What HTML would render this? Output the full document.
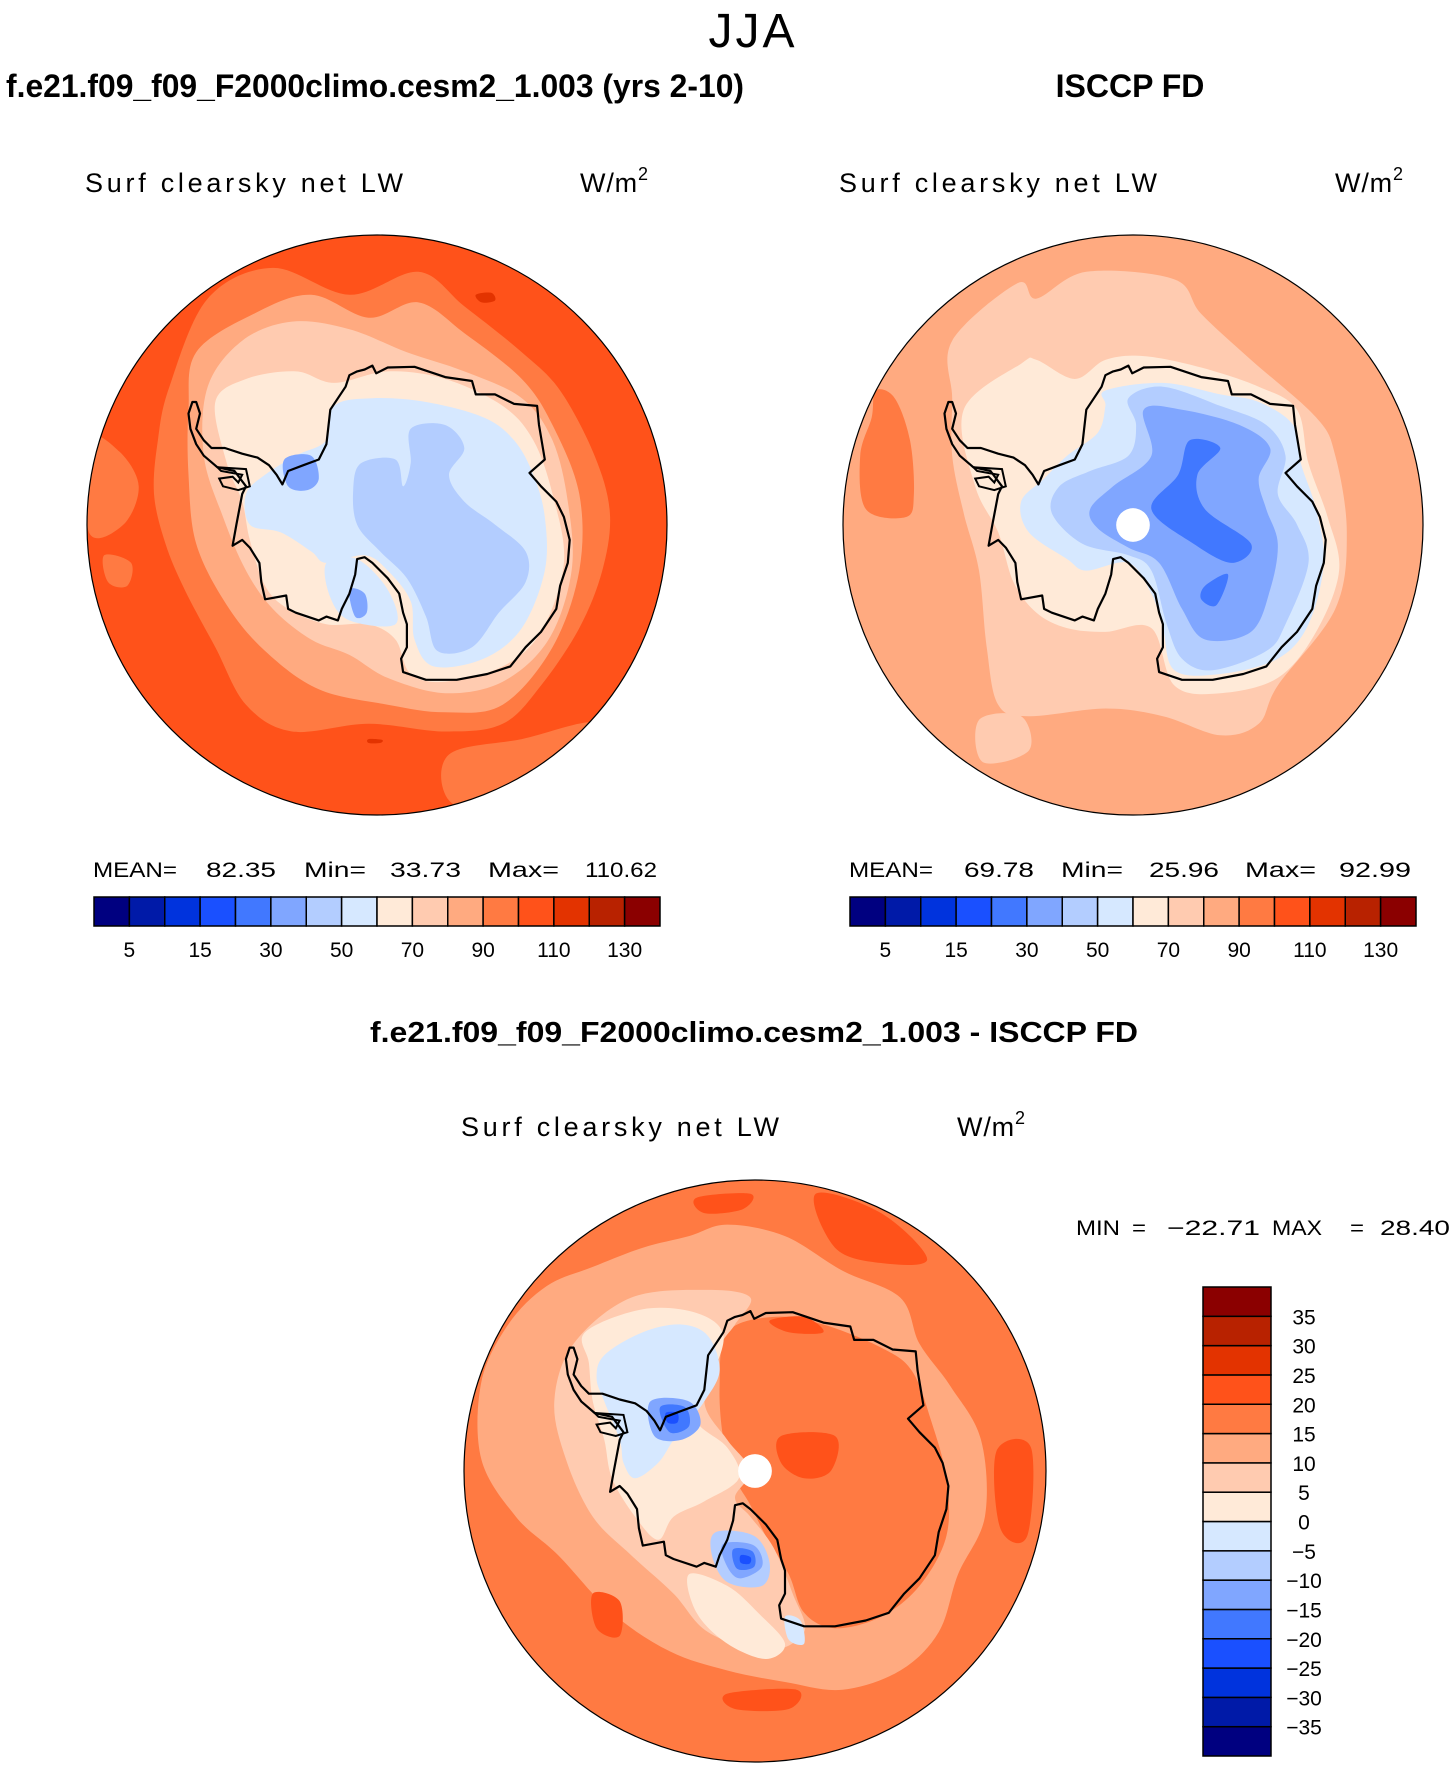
<!DOCTYPE html>
<html><head><meta charset="utf-8">
<style>
html,body{margin:0;padding:0;background:#fff;}
svg{display:block;}
text{font-family:"Liberation Sans",sans-serif;fill:#000;}
.bold{font-weight:bold;}
</style></head>
<body>
<svg id="fig" xmlns="http://www.w3.org/2000/svg" width="1456" height="1766" viewBox="0 0 1456 1766">
  <rect x="0" y="0" width="1456" height="1766" fill="#fff"/>
  <text x="753" y="47" font-size="48" text-anchor="middle" style="letter-spacing:3px">JJA</text>
  <text x="6" y="97" font-size="32" class="bold" textLength="738" lengthAdjust="spacingAndGlyphs">f.e21.f09_f09_F2000climo.cesm2_1.003 (yrs 2-10)</text>
  <text x="1130" y="97" font-size="32" class="bold" text-anchor="middle">ISCCP FD</text>
  <text x="85" y="192" font-size="27" textLength="318" lengthAdjust="spacing">Surf clearsky net LW</text>
  <text x="580" y="192" font-size="27" textLength="68" lengthAdjust="spacing">W/m<tspan font-size="18" dy="-12">2</tspan></text>
  <text x="839" y="192" font-size="27" textLength="318" lengthAdjust="spacing">Surf clearsky net LW</text>
  <text x="1335" y="192" font-size="27" textLength="68" lengthAdjust="spacing">W/m<tspan font-size="18" dy="-12">2</tspan></text>
  <g font-size="21">
    <text x="93" y="877" textLength="84" lengthAdjust="spacingAndGlyphs">MEAN=</text>
    <text x="206" y="877" textLength="70" lengthAdjust="spacingAndGlyphs">82.35</text>
    <text x="304" y="877" textLength="62" lengthAdjust="spacingAndGlyphs">Min=</text>
    <text x="390" y="877" textLength="71" lengthAdjust="spacingAndGlyphs">33.73</text>
    <text x="488" y="877" textLength="71" lengthAdjust="spacingAndGlyphs">Max=</text>
    <text x="585" y="877" textLength="72" lengthAdjust="spacingAndGlyphs">110.62</text>
  </g>
  <g font-size="21">
    <text x="849" y="877" textLength="84" lengthAdjust="spacingAndGlyphs">MEAN=</text>
    <text x="964" y="877" textLength="70" lengthAdjust="spacingAndGlyphs">69.78</text>
    <text x="1061" y="877" textLength="62" lengthAdjust="spacingAndGlyphs">Min=</text>
    <text x="1149" y="877" textLength="70" lengthAdjust="spacingAndGlyphs">25.96</text>
    <text x="1245" y="877" textLength="71" lengthAdjust="spacingAndGlyphs">Max=</text>
    <text x="1339" y="877" textLength="72" lengthAdjust="spacingAndGlyphs">92.99</text>
  </g>
  <text x="754" y="1042" font-size="29" class="bold" text-anchor="middle" textLength="768" lengthAdjust="spacingAndGlyphs">f.e21.f09_f09_F2000climo.cesm2_1.003 - ISCCP FD</text>
  <text x="461" y="1136" font-size="27" textLength="318" lengthAdjust="spacing">Surf clearsky net LW</text>
  <text x="957" y="1136" font-size="27" textLength="68" lengthAdjust="spacing">W/m<tspan font-size="18" dy="-12">2</tspan></text>
  <g font-size="21">
    <text x="1076" y="1235" textLength="44" lengthAdjust="spacingAndGlyphs">MIN</text>
    <text x="1132" y="1235" textLength="14" lengthAdjust="spacingAndGlyphs">=</text>
    <text x="1167" y="1235" textLength="93" lengthAdjust="spacingAndGlyphs">−22.71</text>
    <text x="1272" y="1235" textLength="50" lengthAdjust="spacingAndGlyphs">MAX</text>
    <text x="1350" y="1235" textLength="14" lengthAdjust="spacingAndGlyphs">=</text>
    <text x="1380" y="1235" textLength="70" lengthAdjust="spacingAndGlyphs">28.40</text>
  </g>
  <g id="maps"></g>
  <g id="bars"></g>
</svg>
<script>
// ---- colour scale and contour levels ----
const palette = ["#000080","#001aa8","#0033dd","#1a50ff","#4178ff","#80a6ff","#b3cdff","#d6e8ff","#ffead8","#ffcbb0","#ffaa80","#ff7a42","#ff521a","#e33300","#b82200","#8b0000"];
const levelsAbs = [5,10,15,20,30,40,50,60,70,80,90,100,110,120,130];
const labelsAbs = ["5","","15","","30","","50","","70","","90","","110","","130"];
const levelsDiff = [-35,-30,-25,-20,-15,-10,-5,0,5,10,15,20,25,30,35];
const labelsDiff = ["−35","−30","−25","−20","−15","−10","−5","0","5","10","15","20","25","30","35"];

const NS = "http://www.w3.org/2000/svg";
function mk(tag, attrs, parent){ const e=document.createElementNS(NS,tag); for(const k in attrs) e.setAttribute(k,attrs[k]); if(parent) parent.appendChild(e); return e; }

const coast = [[300,460],[310,490],[300,530],[320,560],[340,580],[375,580],[420,595],[460,605],[490,625],[510,650],[525,675],[540,640],[580,625],[620,610],[640,570],[650,480],[690,420],[700,390],[720,380],[740,375],[760,365],[770,385],[800,370],[870,368],[950,395],[1020,405],[1030,440],[1080,440],[1130,465],[1190,470],[1195,520],[1210,610],[1170,645],[1200,680],[1240,720],[1260,760],[1275,820],[1270,880],[1250,940],[1240,1000],[1200,1060],[1160,1100],[1120,1150],[1060,1170],[980,1185],[900,1185],[840,1165],[835,1130],[850,1100],[850,1040],[840,1010],[830,960],[800,920],[760,880],[740,865],[720,870],[715,910],[700,960],[680,1000],[670,1030],[640,1020],[620,1030],[560,1010],[540,1000],[535,965],[480,975],[470,930],[465,880],[440,840],[420,820],[395,835],[405,780],[420,700],[430,680],[400,640],[355,630],[320,600],[300,570],[285,530],[280,490],[290,460]];
const shelf = [[355,630],[430,635],[440,680],[410,690],[370,680],[360,660],[395,655],[410,670],[420,650],[365,640]];

const mapModel = { cx:377, cy:525, r:290, bg:12, pole:false, layers:[
 {c:11,p:[[330,190],[500,110],[700,180],[880,120],[1000,210],[1150,330],[1250,430],[1340,600],[1380,750],[1360,900],[1300,1050],[1200,1200],[1100,1300],[950,1320],[750,1300],[550,1320],[430,1250],[350,1100],[270,950],[220,830],[190,700],[200,560],[230,420]]},
 {c:11,p:[[20,560],[100,590],[150,680],[110,780],[20,800]]},
 {c:11,p:[[60,860],[130,880],[120,940],[70,930]]},
 {c:11,p:[[960,1380],[1150,1340],[1350,1300],[1300,1450],[1100,1540],[960,1500]]},
 {c:10,p:[[300,330],[450,230],[600,180],[750,240],[880,200],[1000,280],[1150,400],[1230,520],[1300,700],[1300,900],[1230,1100],[1100,1250],[950,1270],[800,1250],[620,1210],[480,1110],[380,990],[300,830],[280,650],[280,480]]},
 {c:9,p:[[330,420],[420,300],[550,250],[700,270],[850,330],[1000,380],[1150,450],[1230,560],[1270,720],[1280,900],[1220,1080],[1100,1190],[950,1220],[800,1180],[700,1120],[600,1080],[500,1000],[430,900],[370,760],[320,600]]},
 {c:8,p:[[350,460],[430,400],[560,380],[660,410],[800,380],[950,400],[1100,470],[1180,560],[1230,700],[1260,880],[1200,1060],[1100,1150],[950,1190],[860,1170],[820,1080],[750,1040],[640,1040],[540,1000],[480,940],[440,820],[420,720],[380,620]]},
 {c:7,p:[[660,470],[760,450],[900,460],[1050,500],[1130,560],[1180,650],[1210,760],[1210,900],[1150,1050],[1050,1130],[920,1150],[870,1080],[860,980],[800,900],[740,860],[640,880],[600,850],[520,800],[440,780],[430,700],[480,650],[560,600],[640,560]]},
 {c:7,p:[[640,880],[720,870],[800,950],[820,1040],[700,1030],[650,970]]},
 {c:6,p:[[860,530],[950,520],[1000,580],[960,650],[1000,720],[1080,780],[1160,850],[1160,930],[1090,1010],[1020,1100],[930,1110],[900,1020],[850,920],[780,850],[720,780],[710,690],[730,620],[820,610],[840,680],[860,620]]},
 {c:5,p:[[530,610],[600,600],[620,660],[590,690],[540,680]]},
 {c:5,p:[[700,950],[740,960],[745,1010],[715,1020]]},
 {c:13,p:[[1030,180],[1070,175],[1080,195],[1045,200]]},
 {c:13,p:[[750,1340],[785,1342],[780,1350],[750,1350]]}
]};

const mapObs = { cx:1133, cy:525, r:290, bg:10, pole:true, layers:[
 {c:9,p:[[300,300],[470,150],[520,190],[650,120],[880,140],[950,230],[1080,350],[1250,500],[1300,600],[1330,800],[1300,1000],[1150,1200],[1100,1300],[1000,1330],[850,1280],[700,1260],[500,1280],[420,1250],[390,1100],[370,900],[330,750],[300,600],[300,450]]},
 {c:9,p:[[370,1290],[480,1280],[500,1370],[380,1400]]},
 {c:11,p:[[100,430],[150,450],[190,560],[200,700],[180,760],[75,740],[60,600],[90,500]]},
 {c:8,p:[[330,480],[480,360],[520,350],[620,400],[700,350],[800,340],[950,370],[1100,420],[1200,480],[1230,620],[1280,760],[1310,900],[1250,1060],[1150,1180],[1000,1220],[880,1200],[820,1050],[700,1060],[600,1050],[520,1010],[460,930],[420,800],[360,680]]},
 {c:7,p:[[700,430],[850,410],[1000,440],[1100,460],[1190,520],[1210,620],[1250,740],[1270,880],[1230,1040],[1150,1130],[1000,1170],[880,1160],[850,1050],[820,960],[760,880],[650,900],[600,870],[500,800],[480,720],[540,660],[600,600],[680,540],[700,470]]},
 {c:6,p:[[760,450],[850,420],[1000,470],[1120,520],[1170,600],[1150,700],[1200,780],[1230,880],[1170,1040],[1120,1110],[980,1160],[900,1130],[860,1040],[820,900],[760,860],[640,830],[560,750],[580,680],[660,640],[760,600],[780,520]]},
 {c:5,p:[[800,480],[900,480],[1050,520],[1130,580],[1100,660],[1120,740],[1150,830],[1130,950],[1080,1060],[960,1080],[900,1000],[840,880],[760,840],[680,790],[660,740],[720,680],[820,600]]},
 {c:4,p:[[920,560],[1000,580],[940,650],[960,740],[1080,830],[1030,880],[930,830],[820,740],[890,650]]},
 {c:4,p:[[960,940],[1020,910],[990,990],[950,975]]}
]};

const mapDiff = { cx:755, cy:1471, r:291, bg:11, pole:true, layers:[
 {c:10,p:[[230,300],[350,250],[480,200],[600,170],[700,140],[850,170],[1000,260],[1150,330],[1200,450],[1280,560],[1360,700],[1370,900],[1300,1050],[1250,1200],[1150,1300],[1000,1350],[850,1330],[700,1300],[550,1250],[400,1150],[260,1000],[150,900],[60,750],[60,550],[130,400]]},
 {c:11,p:[[700,420],[820,380],[950,400],[1100,460],[1180,520],[1230,650],[1270,800],[1270,950],[1200,1080],[1100,1160],[980,1190],[900,1150],[860,1050],[800,950],[760,870],[720,800],[690,700],[680,560]]},
 {c:12,p:[[930,60],[1100,110],[1220,230],[1100,240],[980,200]]},
 {c:12,p:[[620,70],[760,60],[740,100],[640,110]]},
 {c:12,p:[[350,1100],[420,1120],[420,1210],[360,1190]]},
 {c:12,p:[[700,1360],[880,1350],[860,1400],[720,1400]]},
 {c:12,p:[[1400,730],[1490,720],[1480,950],[1410,930]]},
 {c:12,p:[[840,690],[980,690],[970,780],[900,800],[840,760]]},
 {c:12,p:[[810,390],[900,380],[950,420],[860,420]]},
 {c:9,p:[[300,450],[450,330],[650,310],[760,330],[720,400],[680,460],[640,600],[700,700],[760,780],[720,850],[760,900],[820,980],[870,1100],[900,1200],[800,1250],[650,1200],[560,1100],[450,1000],[350,900],[280,750],[250,600]]},
 {c:8,p:[[330,420],[480,360],[620,370],[690,430],[650,560],[620,650],[700,720],[730,800],[640,860],[560,900],[520,960],[460,900],[400,800],[380,700],[350,600],[340,500]]},
 {c:8,p:[[600,1050],[700,1080],[780,1150],[850,1230],[800,1270],[700,1230],[620,1150]]},
 {c:7,p:[[380,480],[480,420],[580,400],[650,430],[680,520],[640,600],[600,650],[560,700],[520,760],[460,800],[430,760],[420,700],[380,600],[360,540]]},
 {c:7,p:[[850,1160],[890,1170],[900,1230],[860,1220]]},
 {c:6,p:[[670,940],[770,950],[810,1020],[790,1080],[700,1070],[660,1000]]},
 {c:5,p:[[500,600],[600,600],[630,660],[580,700],[510,690]]},
 {c:5,p:[[690,970],[770,975],[790,1030],[730,1060],[695,1020]]},
 {c:4,p:[[525,615],[590,615],[600,665],[550,680]]},
 {c:4,p:[[715,985],[765,990],[770,1030],[725,1035]]},
 {c:3,p:[[540,630],[570,630],[570,655],[545,655]]},
 {c:3,p:[[735,1000],[760,1005],[758,1022],[735,1020]]}
]};

const frame = {fx:772, fy:781, fr:757};

function smoothPath(pts){
  const n=pts.length; let d="M"+pts[0][0].toFixed(1)+","+pts[0][1].toFixed(1);
  for(let i=0;i<n;i++){
    const p0=pts[(i-1+n)%n],p1=pts[i],p2=pts[(i+1)%n],p3=pts[(i+2)%n];
    const c1=[p1[0]+(p2[0]-p0[0])/6,p1[1]+(p2[1]-p0[1])/6];
    const c2=[p2[0]-(p3[0]-p1[0])/6,p2[1]-(p3[1]-p1[1])/6];
    d+="C"+c1[0].toFixed(1)+","+c1[1].toFixed(1)+" "+c2[0].toFixed(1)+","+c2[1].toFixed(1)+" "+p2[0].toFixed(1)+","+p2[1].toFixed(1);
  }
  return d+"Z";
}

const mapsG=document.getElementById("maps");
function drawMap(m, name){
  const proj = p => [m.cx+(p[0]-frame.fx)/frame.fr*m.r, m.cy+(p[1]-frame.fy)/frame.fr*m.r];
  const g=mk("g",{},mapsG);
  
  
  const cp=mk("clipPath",{id:"clip-"+name},g);
  mk("circle",{cx:m.cx,cy:m.cy,r:m.r},cp);
  const inner=mk("g",{"clip-path":"url(#clip-"+name+")"},g);
  const bg=mk("circle",{cx:m.cx,cy:m.cy,r:m.r,fill:palette[m.bg]},inner);
  
  
  m.layers.forEach(L=>{
    const pth=mk("path",{d:smoothPath(L.p.map(proj)),fill:palette[L.c]},inner);
    
    
  });
  const cpts=coast.map(proj);
  const cl=mk("polygon",{points:cpts.map(p=>p[0].toFixed(1)+","+p[1].toFixed(1)).join(" "),fill:"none",stroke:"#000","stroke-width":2.2,"stroke-linejoin":"round"},inner);
  
  
  const sh=mk("polygon",{points:shelf.map(proj).map(p=>p[0].toFixed(1)+","+p[1].toFixed(1)).join(" "),fill:"none",stroke:"#000","stroke-width":2},inner);
  
  
  if(m.pole){
    const c=proj([frame.fx,frame.fy]);
    const pc=mk("circle",{cx:c[0],cy:c[1],r:m.r*0.058,fill:"#fff"},inner);
    
    
  }
  const rim=mk("circle",{cx:m.cx,cy:m.cy,r:m.r,fill:"none",stroke:"#000","stroke-width":1.2},g);
  
  
}
drawMap(mapModel,"model-map");
drawMap(mapObs,"obs-map");
drawMap(mapDiff,"diff-map");

const barsG=document.getElementById("bars");
function hBar(x0,x1,y0,y1,levels,labels,name){
  const g=mk("g",{},barsG);
  
  
  const n=levels.length+1, w=(x1-x0)/n;
  for(let i=0;i<n;i++){
    const r=mk("rect",{x:x0+i*w,y:y0,width:w,height:y1-y0,fill:palette[i],stroke:"#000","stroke-width":1.5},g);
    
    
  }
  levels.forEach((v,i)=>{
    if(!labels[i]) return;
    const t=mk("text",{x:x0+(i+1)*w,y:y1+31,"font-size":21,"text-anchor":"middle"},g);
    t.textContent=labels[i];
    
    
  });
}
hBar(94,660,897,926,levelsAbs,labelsAbs,"model-colorbar");
hBar(850,1416,897,926,levelsAbs,labelsAbs,"obs-colorbar");

function vBar(x0,x1,y0,y1,levels,labels,name){
  const g=mk("g",{},barsG);
  
  
  const n=levels.length+1, h=(y1-y0)/n;
  for(let i=0;i<n;i++){
    const r=mk("rect",{x:x0,y:y1-(i+1)*h,width:x1-x0,height:h,fill:palette[i],stroke:"#000","stroke-width":1.5},g);
    
    
  }
  levels.forEach((v,i)=>{
    const t=mk("text",{x:1304,y:y1-(i+1)*h+8,"font-size":21,"text-anchor":"middle"},g);
    t.textContent=labels[i];
    
    
  });
}
vBar(1203,1271,1287,1756,levelsDiff,labelsDiff,"diff-colorbar");
</script>
</body></html>
